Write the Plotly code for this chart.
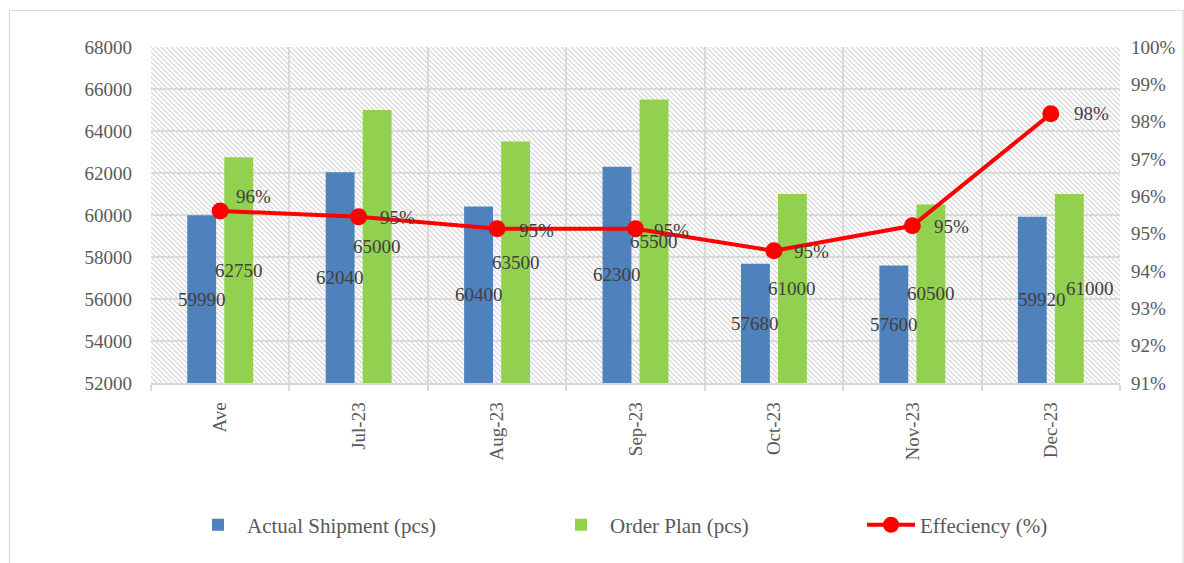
import base64
import plotly.graph_objects as go

# ---- data -------------------------------------------------------------
months = ["Ave", "Jul-23", "Aug-23", "Sep-23", "Oct-23", "Nov-23", "Dec-23"]
actual_shipment = [59990, 62040, 60400, 62300, 57680, 57600, 59920]
order_plan = [62750, 65000, 63500, 65500, 61000, 60500, 61000]
efficiency = [0.9561, 0.9545, 0.9513, 0.9513, 0.9454, 0.9521, 0.9821]

Y_MIN, Y_MAX = 52000, 68000

# ---- styling ----------------------------------------------------------
FONT = "Liberation Serif, Times New Roman, serif"
TICK_GREY = "#595959"
LABEL_GREY = "#404040"
GRID = "#d9d9d9"
BLUE = "#4f81bd"
GREEN = "#92d050"
RED = "#ff0000"

W, H = 1184, 563
M_L, M_R, M_T, M_B = 151, 64, 47, 180
PW, PH = W - M_L - M_R, H - M_T - M_B
BAR_SHIFT = 18.5   # half the distance between paired bar centres, px

# per-label horizontal nudges (px) for the value labels
actual_nudge = [0, 0, 0, 0, 0, 0, 10]
plan_nudge = [0, 0, 0, 0, 0, 0, 21]
# efficiency label offsets from the marker centre (px)
eff_xshift = [33, 39, 39, 36, 38, 39, 41]
eff_yshift = [14, -1, -2, -2, -1, -1, 0]

# diagonal hatch used as the plot-area fill
hatch_svg = f"""<svg xmlns='http://www.w3.org/2000/svg' width='{PW}' height='{PH}'>
<defs><pattern id='h' patternUnits='userSpaceOnUse' width='5' height='5'>
<rect width='5' height='5' fill='white'/>
<path d='M-1,-1 L6,6 M-1,4 L1,6 M4,-1 L6,1' stroke='#d3d3d3' stroke-width='1.1'/>
</pattern></defs>
<rect width='{PW}' height='{PH}' fill='url(#h)'/></svg>"""
hatch_uri = "data:image/svg+xml;base64," + base64.b64encode(hatch_svg.encode()).decode()

fig = go.Figure()

fig.add_trace(go.Bar(
    x=months, y=actual_shipment, name="Actual Shipment (pcs)",
    marker=dict(color=BLUE, line=dict(width=0)), legend="legend",
))
fig.add_trace(go.Bar(
    x=months, y=order_plan, name="Order Plan (pcs)",
    marker=dict(color=GREEN, line=dict(width=0)), legend="legend2",
))
fig.add_trace(go.Scatter(
    x=months, y=efficiency, name="Effeciency (%)", yaxis="y2",
    mode="lines+markers",
    line=dict(color=RED, width=4),
    marker=dict(color=RED, size=17, symbol="circle"),
    cliponaxis=False, legend="legend3",
))

# value labels: centred in the visible part of each bar
annotations = []
label_font = dict(family=FONT, size=19, color=LABEL_GREY)
for series, shift, nudges in ((actual_shipment, -BAR_SHIFT, actual_nudge),
                              (order_plan, BAR_SHIFT, plan_nudge)):
    for m, v, n in zip(months, series, nudges):
        annotations.append(dict(
            x=m, y=(Y_MIN + v) / 2, xref="x", yref="y", text=str(v),
            showarrow=False, xshift=shift + n, font=label_font,
        ))
# efficiency labels to the right of each marker
for m, e, xs, ys in zip(months, efficiency, eff_xshift, eff_yshift):
    annotations.append(dict(
        x=m, y=e, xref="x", yref="y2", text=f"{e:.0%}",
        showarrow=False, xshift=xs, yshift=ys, font=label_font,
    ))


def legend_at(x_px):
    return dict(
        orientation="h", x=(x_px - M_L) / PW, xanchor="left",
        y=-0.423, yanchor="middle", itemwidth=48,
        font=dict(family=FONT, size=21, color=TICK_GREY),
        bgcolor="rgba(0,0,0,0)",
    )


fig.update_layout(
    width=W, height=H,
    margin=dict(l=M_L, r=M_R, t=M_T, b=M_B, autoexpand=False),
    paper_bgcolor="white", plot_bgcolor="white",
    font=dict(family=FONT, size=19, color=TICK_GREY),
    barmode="group", bargap=0.465, bargroupgap=0.22,
    showlegend=True,
    legend=legend_at(189),
    legend2=legend_at(552),
    legend3=legend_at(862),
    xaxis=dict(
        type="category", tickson="boundaries", tickangle=-90,
        showgrid=True, gridcolor=GRID, gridwidth=1.5,
        showline=True, linecolor=GRID, linewidth=1.5,
        ticks="outside", ticklen=6, tickcolor=GRID, tickwidth=1.5,
        ticklabelstandoff=10,
        tickfont=dict(family=FONT, size=19, color=TICK_GREY),
    ),
    yaxis=dict(
        range=[Y_MIN, Y_MAX], dtick=2000, tick0=Y_MIN,
        showgrid=True, gridcolor=GRID, gridwidth=1.5,
        zeroline=False, showline=False, ticks="", ticklabelstandoff=18,
        tickformat="d",
        tickfont=dict(family=FONT, size=19, color=TICK_GREY),
    ),
    yaxis2=dict(
        overlaying="y", side="right", range=[0.91, 1.00], dtick=0.01,
        tick0=0.91, tickformat=".0%", showgrid=False, zeroline=False,
        showline=False, ticks="", ticklabelstandoff=10,
        tickfont=dict(family=FONT, size=19, color=TICK_GREY),
    ),
    annotations=annotations,
    images=[dict(
        source=hatch_uri, xref="paper", yref="paper", x=0, y=1,
        sizex=1, sizey=1, xanchor="left", yanchor="top",
        sizing="stretch", layer="below",
    )],
    shapes=[dict(
        type="rect", xref="paper", yref="paper",
        x0=(9.5 - M_L) / PW, x1=(1183 - M_L) / PW,
        y0=(H - M_B - 575) / PH, y1=(H - M_B - 10.5) / PH,
        line=dict(color=GRID, width=1.2), fillcolor="rgba(0,0,0,0)",
        layer="below",
    )],
)

fig.write_html("out.html")
